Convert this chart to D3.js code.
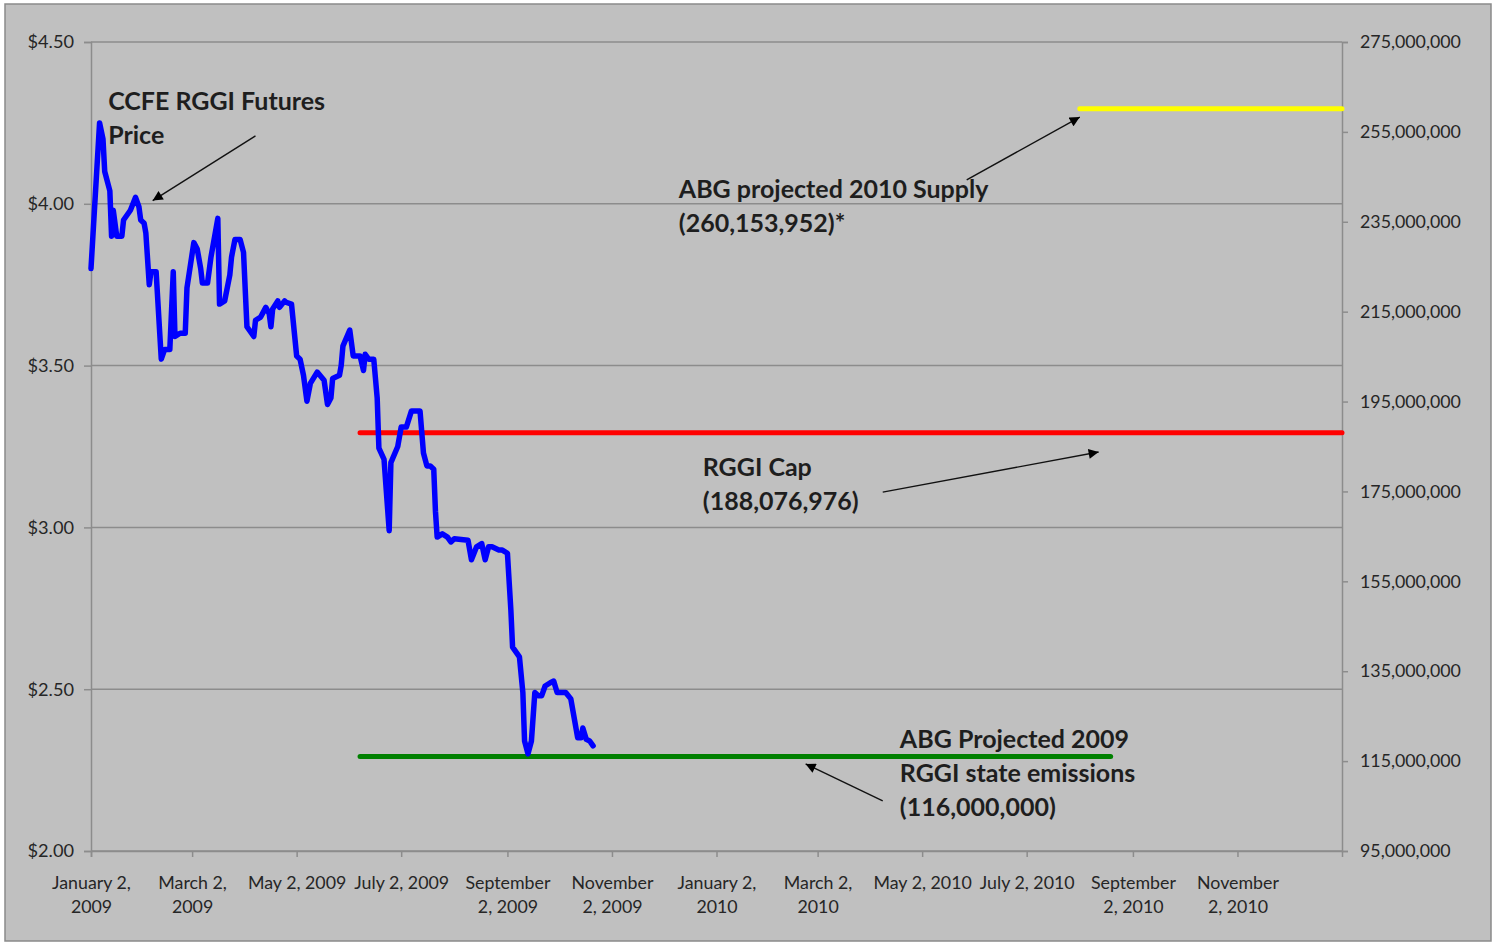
<!DOCTYPE html>
<html><head><meta charset="utf-8">
<script src="https://cdn.jsdelivr.net/npm/d3@7"></script>
<style>
body{margin:0;background:#fff}
svg{display:block}
text{font-family:Lato,"Open Sans",sans-serif}
</style>
</head><body>
<svg id="c" width="1495" height="943"></svg>
<script>
// ---------------- data ----------------
const priceDates = ["2009-01-02","2009-01-07","2009-01-09","2009-01-10","2009-01-13","2009-01-14","2009-01-15","2009-01-17","2009-01-20","2009-01-21","2009-01-25","2009-01-28","2009-01-30","2009-01-31","2009-02-02","2009-02-03","2009-02-05","2009-02-06","2009-02-09","2009-02-12","2009-02-14","2009-02-17","2009-02-19","2009-02-20","2009-02-23","2009-02-26","2009-02-27","2009-03-03","2009-03-05","2009-03-07","2009-03-08","2009-03-11","2009-03-13","2009-03-14","2009-03-17","2009-03-18","2009-03-21","2009-03-24","2009-03-25","2009-03-27","2009-03-30","2009-04-01","2009-04-03","2009-04-07","2009-04-08","2009-04-11","2009-04-14","2009-04-16","2009-04-17","2009-04-18","2009-04-21","2009-04-22","2009-04-25","2009-04-26","2009-04-29","2009-05-02","2009-05-04","2009-05-06","2009-05-08","2009-05-10","2009-05-14","2009-05-18","2009-05-20","2009-05-22","2009-05-23","2009-05-27","2009-05-28","2009-05-29","2009-06-02","2009-06-04","2009-06-08","2009-06-10","2009-06-11","2009-06-13","2009-06-16","2009-06-18","2009-06-19","2009-06-22","2009-06-25","2009-06-26","2009-06-30","2009-07-02","2009-07-05","2009-07-08","2009-07-13","2009-07-15","2009-07-17","2009-07-19","2009-07-21","2009-07-22","2009-07-23","2009-07-26","2009-07-29","2009-07-31","2009-08-02","2009-08-10","2009-08-12","2009-08-15","2009-08-18","2009-08-20","2009-08-22","2009-08-24","2009-08-28","2009-08-30","2009-09-02","2009-09-04","2009-09-05","2009-09-09","2009-09-11","2009-09-12","2009-09-14","2009-09-16","2009-09-18","2009-09-20","2009-09-22","2009-09-24","2009-09-27","2009-09-29","2009-10-01","2009-10-03","2009-10-06","2009-10-09","2009-10-13","2009-10-15","2009-10-16","2009-10-18","2009-10-20","2009-10-22"];
const prices = [3.80,4.25,4.20,4.10,4.04,3.90,3.98,3.90,3.90,3.95,3.98,4.02,3.99,3.95,3.94,3.91,3.75,3.79,3.79,3.52,3.55,3.55,3.79,3.59,3.60,3.60,3.74,3.88,3.86,3.80,3.755,3.755,3.835,3.865,3.955,3.69,3.70,3.78,3.835,3.89,3.89,3.85,3.62,3.59,3.64,3.65,3.68,3.66,3.62,3.675,3.70,3.68,3.70,3.695,3.69,3.53,3.52,3.47,3.39,3.445,3.48,3.455,3.38,3.40,3.46,3.47,3.50,3.56,3.61,3.53,3.53,3.485,3.535,3.52,3.52,3.40,3.245,3.21,2.99,3.20,3.25,3.31,3.31,3.36,3.36,3.23,3.19,3.19,3.18,3.05,2.97,2.98,2.97,2.955,2.965,2.96,2.90,2.94,2.95,2.90,2.94,2.94,2.93,2.93,2.92,2.745,2.63,2.60,2.49,2.34,2.30,2.34,2.49,2.48,2.48,2.51,2.52,2.525,2.49,2.49,2.49,2.47,2.35,2.35,2.38,2.345,2.34,2.325];

const leftTicks = [2.0,2.5,3.0,3.5,4.0,4.5];
const rightTicks = [95000000,115000000,135000000,155000000,175000000,195000000,215000000,235000000,255000000,275000000];
const xTickDates = ["2009-01-02","2009-03-02","2009-05-02","2009-07-02","2009-09-02","2009-11-02","2010-01-02","2010-03-02","2010-05-02","2010-07-02","2010-09-02","2010-11-02"];
const xTickLabels = [["January 2,","2009"],["March 2,","2009"],["May 2, 2009"],["July 2, 2009"],["September","2, 2009"],["November","2, 2009"],["January 2,","2010"],["March 2,","2010"],["May 2, 2010"],["July 2, 2010"],["September","2, 2010"],["November","2, 2010"]];

const refNames = ["ABG projected 2010 Supply","RGGI Cap","ABG Projected 2009 RGGI state emissions"];
const refValues = [260153952,188076976,116000000];
const refStarts = ["2010-08-02","2009-06-08","2009-06-08"];
const refEnds = ["2011-01-02","2011-01-02","2010-08-20"];
const refColors = ["#ffff00","#ff0000","#008000"];

// annotations in data units (date, price on left axis)
const annotations = [
  {lines:["CCFE RGGI Futures","Price"], date:"2009-01-12", price:4.29, from:["2009-04-08",4.21], to:["2009-02-07",4.01]},
  {lines:["ABG projected 2010 Supply","(260,153,952)*"], date:"2009-12-11", price:4.018, from:["2010-05-28",4.074], to:["2010-08-02",4.268]},
  {lines:["RGGI Cap","(188,076,976)"], date:"2009-12-25", price:3.159, from:["2010-04-09",3.109], to:["2010-08-13",3.233]},
  {lines:["ABG Projected 2009","RGGI state emissions","(116,000,000)"], date:"2010-04-19", price:2.318, from:["2010-04-09",2.155], to:["2010-02-23",2.269]}
];

// ---------------- drawing ----------------
const parse = d3.utcParse("%Y-%m-%d");
const svg = d3.select("#c");
const L = 91, R = 1342, T = 42, B = 851;

svg.append("rect").attr("x",5).attr("y",4).attr("width",1486).attr("height",937)
  .attr("fill","#c0c0c0").attr("stroke","#8a8a8a").attr("stroke-width",1.5);

const x = d3.scaleUtc().domain([parse("2009-01-02"), parse("2011-01-02")]).range([L,R]);
const yL = d3.scaleLinear().domain([2,4.5]).range([B,T]);
const yR = d3.scaleLinear().domain([95000000,275000000]).range([B,T]);

// gridlines
svg.append("g").selectAll("line").data(leftTicks).join("line")
  .attr("x1",L).attr("x2",R).attr("y1",d=>yL(d)).attr("y2",d=>yL(d))
  .attr("stroke","#8c8c8c").attr("stroke-width",1.5);

const txtCol = "#262626";
const gL = svg.append("g").attr("transform",`translate(${L},0)`)
  .call(d3.axisLeft(yL).tickValues(leftTicks).tickFormat(d3.format("$.2f")).tickSize(7).tickPadding(10));
const gR = svg.append("g").attr("transform",`translate(${R},0)`)
  .call(d3.axisRight(yR).tickValues(rightTicks).tickFormat(d3.format(",")).tickSize(6).tickPadding(12));
const gB = svg.append("g").attr("transform",`translate(0,${B})`)
  .call(d3.axisBottom(x).tickValues(xTickDates.map(parse)).tickSize(6).tickFormat(""));

[gL,gR,gB].forEach(g=>{
  g.select(".domain").attr("stroke","#8c8c8c").attr("stroke-width",1.5);
  g.selectAll(".tick line").attr("stroke","#8c8c8c").attr("stroke-width",1.5);
  g.selectAll(".tick text").attr("fill",txtCol).attr("font-family","Lato, 'Open Sans', sans-serif");
});
gL.selectAll(".tick text").attr("font-size",18.2);
gR.selectAll(".tick text").attr("font-size",17.8);
gB.selectAll(".tick").each(function(d,i){
  const t = d3.select(this).append("text").attr("text-anchor","middle").attr("fill",txtCol)
    .attr("font-size",17.8).attr("font-family","Lato, 'Open Sans', sans-serif");
  xTickLabels[i].forEach((s,j)=>{
    t.append("tspan").attr("x",0).attr("y",38 + j*24).text(s);
  });
});

// reference lines (right axis)
svg.append("g").selectAll("line").data(refValues).join("line")
  .attr("x1",(d,i)=>x(parse(refStarts[i]))).attr("x2",(d,i)=>x(parse(refEnds[i])))
  .attr("y1",d=>yR(d)).attr("y2",d=>yR(d))
  .attr("stroke",(d,i)=>refColors[i]).attr("stroke-width",5).attr("stroke-linecap","round");

// price line
const series = priceDates.map((d,i)=>({date:parse(d), price:prices[i]}));
svg.append("path").datum(series)
  .attr("fill","none").attr("stroke","#0000ff").attr("stroke-width",5.5)
  .attr("stroke-linejoin","round").attr("stroke-linecap","round")
  .attr("d", d3.line().x(d=>x(d.date)).y(d=>yL(d.price)));

// annotations
const defs = svg.append("defs");
defs.append("marker").attr("id","ah").attr("viewBox","0 0 10 10").attr("refX",10).attr("refY",5)
  .attr("markerWidth",11).attr("markerHeight",10).attr("markerUnits","userSpaceOnUse").attr("orient","auto")
  .append("path").attr("d","M0,0 L10,5 L0,10 z").attr("fill","#000");

annotations.forEach(a=>{
  const ax = x(parse(a.date)), ay = yL(a.price);
  const t = svg.append("text").attr("font-size",25).attr("font-weight","bold").attr("fill","#1e1e1e");
  a.lines.forEach((s,j)=>t.append("tspan").attr("x",ax).attr("y",ay + j*34).text(s));
  svg.append("line")
    .attr("x1",x(parse(a.from[0]))).attr("y1",yL(a.from[1]))
    .attr("x2",x(parse(a.to[0]))).attr("y2",yL(a.to[1]))
    .attr("stroke","#111").attr("stroke-width",1.4).attr("marker-end","url(#ah)");
});
</script>
</body></html>
